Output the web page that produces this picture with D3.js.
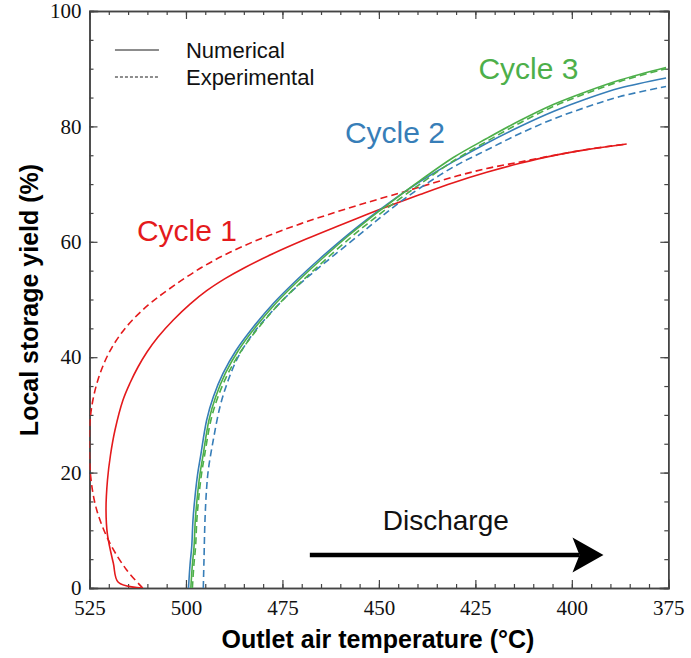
<!doctype html>
<html>
<head>
<meta charset="utf-8">
<style>
    body { margin: 0; background: #fff; }
    .tick text { font-family: "Liberation Serif", "Times New Roman", serif; font-size: 21px; fill: #111; }
    .axis path, .axis line { stroke: #444; }
    .axis path { stroke-width: 1.5px; }
    .axis line { stroke-width: 1.2px; }
    .title { font-family: "Liberation Sans", Arial, sans-serif; font-weight: bold; font-size: 25px; fill: #000; }
    .note { font-family: "Liberation Sans", Arial, sans-serif; }
</style>
<script src="https://d3js.org/d3.v7.min.js"></script>
</head>
<body>
<svg width="691" height="658"></svg>
<script>

// outlet air temperature (°C) and local storage yield (%) per curve
var cycle1NumT = [511.47,517.54,518.83,520.34,520.72,520.34,519.56,518.39,516.32,514.50,512.43,510.10,507.25,503.28,498.95,494.63,489.88,484.70,477.37,468.71,460.08,453.16,445.83,439.35,430.72,422.06,413.43,404.80,396.14,385.78];
var cycle1NumY = [0,0.99,4.33,9.19,13.52,18.72,23.05,27.38,32.58,35.53,38.30,40.90,43.50,46.45,49.20,51.53,53.62,55.56,57.97,60.52,62.88,64.73,66.60,68.20,70.24,72.04,73.60,74.94,75.98,76.95];

var cycle1ExpT = [511.21,515.36,519.69,523.13,524.69,525.05,524.84,524.12,522.82,521.09,519.27,516.71,513.86,509.76,504.71,495.87,487.34,478.74,470.19,461.38,452.82,444.53,439.35,430.72,422.06,413.43,404.80,396.14,385.78];
var cycle1ExpY = [0,3.12,7.75,13.52,19.29,25.65,29.12,32.58,36.05,39.17,41.59,44.19,46.45,49.05,51.65,55.58,58.58,61.04,63.15,65.09,66.86,68.47,69.50,71.23,72.70,73.83,74.96,76.00,76.95];

var cycle2NumT = [499.34,498.95,498.51,498.18,497.66,497.01,496.23,494.63,492.92,490.40,487.03,482.55,477.37,471.30,465.26,458.34,453.16,447.98,441.94,439.35,430.72,422.06,413.43,404.80,396.14,387.51,375.59];
var cycle2NumY = [0,3.99,7.16,11.79,15.82,19.58,22.76,29.12,33.10,37.18,41.16,45.23,49.31,53.38,57.11,61.09,63.86,66.46,69.29,70.43,73.90,77.09,79.98,82.58,84.78,86.64,88.39];

var cycle2ExpT = [495.51,495.33,495.07,494.68,494.21,492.92,491.18,489.03,486.44,482.55,477.37,471.30,465.26,458.34,451.45,445.39,439.35,430.72,422.06,413.43,404.80,396.14,387.51,375.59];
var cycle2ExpY = [0,4.85,11.79,16.98,20.45,25.65,31.42,36.05,40.09,44.14,48.18,52.22,55.68,59.45,63.21,66.46,69.32,72.96,75.91,78.77,81.28,83.36,85.18,86.91];

var cycle3NumT = [498.74,498.35,497.91,497.58,497.06,496.41,495.63,494.03,492.32,489.80,486.43,481.95,476.77,470.70,464.66,457.84,452.76,447.68,441.94,439.35,430.72,422.06,413.43,404.80,396.14,387.51,375.59];
var cycle3NumY = [0,3.99,7.16,11.79,15.82,19.58,22.76,29.12,33.10,37.18,41.16,45.23,49.31,53.38,57.11,61.09,63.86,66.46,69.35,70.60,74.61,77.90,81.02,83.80,86.05,88.04,90.21];

var cycle3ExpT = [498.34,497.95,497.51,497.18,496.66,496.01,495.23,493.53,491.72,489.10,485.63,481.05,475.77,469.60,463.50,456.70,451.60,446.60,441.00,439.35,430.72,422.06,413.43,404.80,396.14,387.51,375.59];
var cycle3ExpY = [0,3.99,7.16,11.79,15.82,19.58,22.76,29.12,33.10,37.18,41.16,45.23,49.31,53.38,57.11,61.09,63.86,66.46,69.20,70.00,74.00,77.40,80.60,83.45,85.75,87.80,90.00];

var xTicks = [525, 500, 475, 450, 425, 400, 375];
var yTicks = [0, 20, 40, 60, 80, 100];
var cycleNames = ["Cycle 1", "Cycle 2", "Cycle 3"];
var legendNames = ["Numerical", "Experimental"];

var colors = ["#e41a1c", "#377eb8", "#4daf4a"];

var series = [
    {t: cycle1NumT, y: cycle1NumY, c: 0, dash: false},
    {t: cycle1ExpT, y: cycle1ExpY, c: 0, dash: true},
    {t: cycle2NumT, y: cycle2NumY, c: 1, dash: false},
    {t: cycle2ExpT, y: cycle2ExpY, c: 1, dash: true},
    {t: cycle3ExpT, y: cycle3ExpY, c: 2, dash: true},
    {t: cycle3NumT, y: cycle3NumY, c: 2, dash: false}
];

var svg = d3.select("svg"),
    pLeft = 89.5, pRight = 668.3, pTop = 11, pBottom = 588;

var x = d3.scaleLinear().domain([525, 375]).range([pLeft, pRight]);
var y = d3.scaleLinear().domain([0, 100]).range([pBottom, pTop]);

var minorX = d3.range(525, 374, -5);
var minorY = d3.range(0, 101, 5);

// minor ticks, all four sides, pointing inward
svg.append("g").attr("class", "axis").attr("transform", "translate(0," + pBottom + ")")
   .call(d3.axisBottom(x).tickValues(minorX).tickSize(-4).tickFormat(""));
svg.append("g").attr("class", "axis").attr("transform", "translate(0," + pTop + ")")
   .call(d3.axisTop(x).tickValues(minorX).tickSize(-4).tickFormat(""));
svg.append("g").attr("class", "axis").attr("transform", "translate(" + pLeft + ",0)")
   .call(d3.axisLeft(y).tickValues(minorY).tickSize(-4).tickFormat(""));
svg.append("g").attr("class", "axis").attr("transform", "translate(" + pRight + ",0)")
   .call(d3.axisRight(y).tickValues(minorY).tickSize(-4).tickFormat(""));

// major ticks + labels
svg.append("g").attr("class", "axis").attr("transform", "translate(0," + pBottom + ")")
   .call(d3.axisBottom(x).tickValues(xTicks).tickSize(-8).tickPadding(12).tickFormat(d3.format("d")));
svg.append("g").attr("class", "axis").attr("transform", "translate(0," + pTop + ")")
   .call(d3.axisTop(x).tickValues(xTicks).tickSize(-8).tickFormat(""));
svg.append("g").attr("class", "axis").attr("transform", "translate(" + pLeft + ",0)")
   .call(d3.axisLeft(y).tickValues(yTicks).tickSize(-8).tickPadding(8).tickFormat(d3.format("d")));
svg.append("g").attr("class", "axis").attr("transform", "translate(" + pRight + ",0)")
   .call(d3.axisRight(y).tickValues(yTicks).tickSize(-8).tickFormat(""));

svg.selectAll(".axis .domain").attr("stroke-linecap", "square");

svg.append("clipPath").attr("id", "plot")
   .append("rect").attr("x", pLeft).attr("y", pTop).attr("width", pRight - pLeft).attr("height", pBottom - pTop);

var line = d3.line()
    .x(function(d) { return x(d[0]); })
    .y(function(d) { return y(d[1]); })
    .curve(d3.curveCatmullRom.alpha(0.5));

svg.append("g").attr("clip-path", "url(#plot)")
   .selectAll("path")
   .data(series)
   .enter().append("path")
   .attr("fill", "none")
   .attr("stroke", function(d) { return colors[d.c]; })
   .attr("stroke-width", 1.6)
   .attr("stroke-dasharray", function(d) { return d.dash ? "7,4" : null; })
   .attr("d", function(d) { return line(d.t.map(function(v, i) { return [v, d.y[i]]; })); });

// legend
var legend = svg.append("g");
legendNames.forEach(function(name, i) {
    var ly = y(93.24) - i * (y(93.24) - y(88.56));
    legend.append("line")
       .attr("x1", x(518.4)).attr("x2", x(507))
       .attr("y1", ly).attr("y2", ly)
       .attr("stroke", "#000").attr("stroke-width", 0.9)
       .attr("stroke-dasharray", i ? "3,2" : null);
    legend.append("text").attr("class", "note")
       .attr("x", x(500)).attr("y", ly + 8)
       .attr("font-size", "22px").attr("fill", "#111")
       .text(name);
});

// cycle labels
var cyclePos = [[512.7, 60.1], [458.8, 77.1], [424.2, 88.2]];
svg.selectAll(".cyc")
   .data(cycleNames)
   .enter().append("text")
   .attr("class", "note")
   .attr("x", function(d, i) { return x(cyclePos[i][0]); })
   .attr("y", function(d, i) { return y(cyclePos[i][1]); })
   .attr("font-size", "30px")
   .attr("fill", function(d, i) { return colors[i]; })
   .text(function(d) { return d; });

// discharge arrow
var ay = y(5.7);
svg.append("line")
   .attr("x1", x(467.9)).attr("x2", x(398))
   .attr("y1", ay).attr("y2", ay)
   .attr("stroke", "#000").attr("stroke-width", 4.5);
var tip = x(391.8);
svg.append("path")
   .attr("d", "M" + tip + "," + ay + "L" + (tip - 31) + "," + (ay - 17.5) + "L" + (tip - 24) + "," + ay + "L" + (tip - 31) + "," + (ay + 17.5) + "Z")
   .attr("fill", "#000");
svg.append("text").attr("class", "note")
   .attr("x", x(449)).attr("y", y(10.05))
   .attr("font-size", "28px").attr("fill", "#111")
   .text("Discharge");

// axis titles
svg.append("text").attr("class", "title")
   .attr("x", 378).attr("y", 648)
   .attr("text-anchor", "middle")
   .text("Outlet air temperature (°C)");

svg.append("text").attr("class", "title")
   .attr("transform", "translate(38,300) rotate(-90)")
   .attr("text-anchor", "middle")
   .text("Local storage yield (%)");

</script>
</body>
</html>
